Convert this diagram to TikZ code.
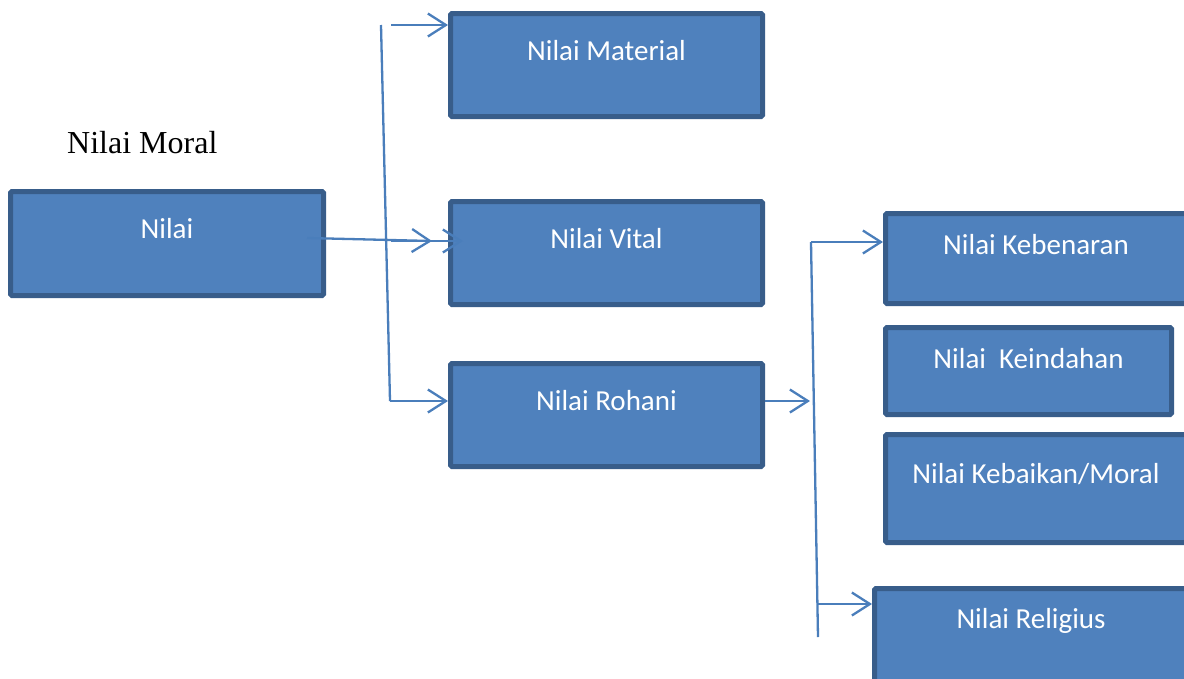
\documentclass[tikz,border=0pt]{standalone}
\usepackage{fontspec}
\setmainfont{Carlito}
\newfontfamily\timesfont{Liberation Serif}
\usetikzlibrary{arrows.meta}
\definecolor{boxfill}{HTML}{4F81BD}
\definecolor{boxline}{HTML}{385D8A}
\definecolor{arrcol}{HTML}{4A7EBB}
\tikzset{
  valbox/.style 2 args={draw=boxline, fill=boxfill, line width=5pt, rounded corners=1.5pt,
    anchor=north west, inner xsep=0pt, inner ysep=0pt, text=white,
    font=\fontsize{29}{35}\selectfont, text height=#1, text depth=#2},
  conn/.style={draw=arrcol, line width=2.3pt},
  arr/.style={conn, -{Straight Barb[length=18pt,width=23pt]}}
}
\begin{document}
\begin{tikzpicture}[x=1pt,y=-1pt]
\useasboundingbox (0,0) rectangle (1184,678);
\clip (0,0) rectangle (1184,678);
\fill[white] (0,0) rectangle (1184,678);

\node[anchor=base west, inner sep=0pt, font=\timesfont\fontsize{32}{38}\selectfont] (moral) at (67,153) {Nilai Moral};

\node[valbox={46.5pt}{57.5pt}, minimum width=313pt] (nilai) at (8,189) {Nilai};
\node[valbox={46.5pt}{56.5pt}, minimum width=312pt] (material) at (448,11) {Nilai Material};
\node[valbox={46.5pt}{56.5pt}, minimum width=312pt] (vital) at (448,199) {Nilai Vital};
\node[valbox={46.5pt}{56.5pt}, minimum width=312pt] (rohani) at (448,361) {Nilai Rohani};
\node[valbox={40.5pt}{49.5pt}, minimum width=301pt] (kebenaran) at (883,211) {Nilai Kebenaran};
\node[valbox={40.5pt}{46.5pt}, minimum width=286pt] (keindahan) at (883,325) {Nilai~~Keindahan};
\node[valbox={48.5pt}{59.5pt}, minimum width=301pt] (kebaikan) at (883,432) {Nilai Kebaikan/Moral};
\node[valbox={39.5pt}{61.5pt}, minimum width=313pt] (religius) at (872,586) {Nilai Religius};

% left connectors
\coordinate (ta) at (381,25);
\coordinate (tb) at (390,401);
\coordinate (ma) at (391,25);
\coordinate (n0) at (307,238);
\coordinate (n1) at (432,241);
\coordinate (n2) at (391,241);
\coordinate (n3) at (463,241);
\draw[conn] (ta) -- (tb);
\draw[arr] (ma) -- (ma -| material.west);
\draw[arr] (tb) -- (tb -| rohani.west);
\draw[arr] (n0) -- (n1);
\draw[arr] (n2) -- (n3);

% right connectors
\coordinate (rc) at (810,401);
\coordinate (ua) at (811,242);
\coordinate (ub) at (818,637);
\coordinate (uc) at (818,604);
\draw[arr] (rc -| rohani.east) -- (rc);
\draw[conn] (ua) -- (ub);
\draw[arr] (ua) -- (ua -| kebenaran.west);
\draw[arr] (uc) -- (uc -| religius.west);
\end{tikzpicture}
\end{document}
